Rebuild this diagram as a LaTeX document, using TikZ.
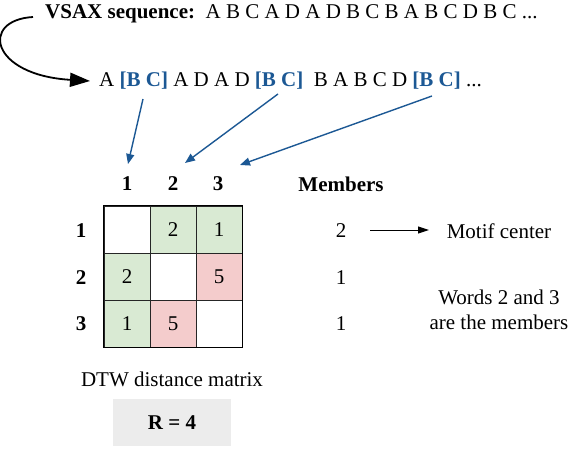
\documentclass[tikz,border=0pt]{standalone}
\usepackage{fontspec}
\setmainfont{Liberation Serif}
\usetikzlibrary{arrows.meta}
\definecolor{seqblue}{RGB}{28,88,148}
\definecolor{cellgreen}{RGB}{217,234,211}
\definecolor{cellpink}{RGB}{244,204,204}
\definecolor{rgray}{RGB}{236,236,236}
\newcommand\fsz{\fontsize{21}{25}\selectfont}
\begin{document}
\begin{tikzpicture}[x=1pt,y=-1pt,
  txt/.style={inner sep=0pt,font=\fsz},
  btxt/.style={inner sep=0pt,font=\fsz\bfseries},
  cell/.style={draw=black!85,line width=1pt,minimum width=46pt,minimum height=47pt,inner sep=0pt,font=\fsz},
  bluearrow/.style={draw=seqblue,line width=1.4pt,-{Triangle[length=10pt,width=8pt]}},
  blackarrow/.style={draw=black,line width=1pt,-{Triangle[length=11pt,width=7pt]}}]
\useasboundingbox (0,0) rectangle (570,450);
% top line
\node[anchor=west,inner sep=0pt] (seq) at (45,14) {\fsz\textbf{VSAX sequence:}\ \ A B C A D A D B C B A B C D B C ...};
% second line
\newcommand\bc{\textcolor{seqblue}{\textbf{[B C]}}}
\node[anchor=west,inner sep=0pt] (seg) at (99,81) {\fsz A \bc{} A D A D \bc\ \ B A B C D \bc{} ...};
\coordinate (cstart) at (33,17);
\coordinate (cend) at (90,81);
\draw[line width=1.8pt,-{Triangle[length=20pt,width=14pt]}] (cstart) .. controls (-20,20) and (-10,75) .. (cend);
% headers
\node[btxt] (c1) at (127,184) {1};
\node[btxt] (c2) at (173,184) {2};
\node[btxt] (c3) at (218,184) {3};
\node[btxt] (mem) at (341,184) {Members};
\node[btxt] (r1) at (81,231) {1};
\node[btxt] (r2) at (81,278) {2};
\node[btxt] (r3) at (81,324) {3};
% blue arrows
\coordinate (b1) at (143,99);
\coordinate (b2) at (278,94);
\coordinate (b3) at (432,96);
\coordinate (t1) at (128,164);
\coordinate (t2) at (185,163);
\coordinate (t3) at (240,165);
\draw[bluearrow] (b1) -- (t1);
\draw[bluearrow] (b2) -- (t2);
\draw[bluearrow] (b3) -- (t3);
% matrix
\node[cell] (m11) at (127,229.5) {};
\node[cell,fill=cellgreen] (m12) at (173,229.5) {2};
\node[cell,fill=cellgreen] (m13) at (219,229.5) {1};
\node[cell,fill=cellgreen] (m21) at (127,276.5) {2};
\node[cell] (m22) at (173,276.5) {};
\node[cell,fill=cellpink] (m23) at (219,276.5) {5};
\node[cell,fill=cellgreen] (m31) at (127,323.5) {1};
\node[cell,fill=cellpink] (m32) at (173,323.5) {5};
\node[cell] (m33) at (219,323.5) {};
\draw[black,line width=1.4pt] (m11.north west) rectangle (m33.south east);
% members
\node[txt] (v1) at (341,231) {2};
\node[txt] (v2) at (341,278) {1};
\node[txt] (v3) at (341,324) {1};
\node[txt] (mc) at (499,231) {Motif center};
\coordinate (a1) at (370,230);
\coordinate (a2) at (429,230);
\draw[blackarrow] (a1) -- (a2);
\node[txt,align=center,font=\fontsize{21}{25}\selectfont] (words) at (499,310) {Words 2 and 3\\are the members};
\node[txt] (dtw) at (172,379) {DTW distance matrix};
\node[fill=rgray,minimum width=118pt,minimum height=47pt,inner sep=0pt,font=\fsz\bfseries] (R) at (172,422.5) {R = 4};
\end{tikzpicture}
\end{document}
